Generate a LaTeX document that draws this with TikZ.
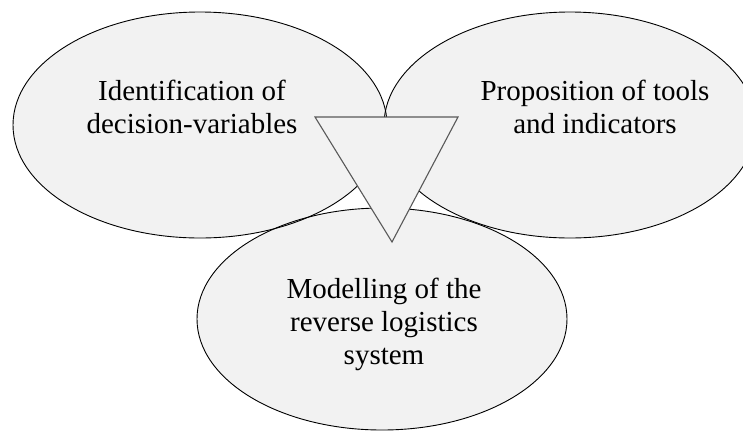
\documentclass[tikz,border=0pt]{standalone}
\usepackage{fontspec}
\setmainfont{Liberation Serif}
\definecolor{bubblegray}{HTML}{F2F2F2}
\definecolor{wedgegray}{HTML}{595959}
\tikzset{
  bubble/.style={fill=bubblegray},
  rim/.style={draw=black, line width=0.9pt},
  wedge/.style={fill=bubblegray, draw=wedgegray, line width=1.1pt, line join=miter},
  caption/.style={font=\fontsize{29}{33}\selectfont, align=center, inner sep=0pt}
}
\begin{document}
\begin{tikzpicture}[x=1pt,y=-1pt]
 \useasboundingbox (0,0) rectangle (743,432);
 \clip (0,0) rectangle (743,432);
 % fills first
 \fill[bubble] (200,125) ellipse [x radius=187pt, y radius=113pt];
 \fill[bubble] (570,125) ellipse [x radius=186pt, y radius=113pt];
 \fill[bubble] (382,319) ellipse [x radius=185pt, y radius=111pt];
 % outlines
 \draw[rim] (200,125) ellipse [x radius=187pt, y radius=113pt];
 \draw[rim] (570,125) ellipse [x radius=186pt, y radius=113pt];
 \draw[rim] (382,319) ellipse [x radius=185pt, y radius=111pt];
 %
 \filldraw[wedge] (315,117) -- (458,117) -- (392,242) -- cycle;
 %
 \node[caption] (ident) at (192,107) {Identification of\\decision-variables};
 \node[caption] (tools) at (595,107) {Proposition of tools\\and indicators};
 \node[caption] (model) at (384,324) {Modelling of the\\reverse logistics\\system};
\end{tikzpicture}
\end{document}
